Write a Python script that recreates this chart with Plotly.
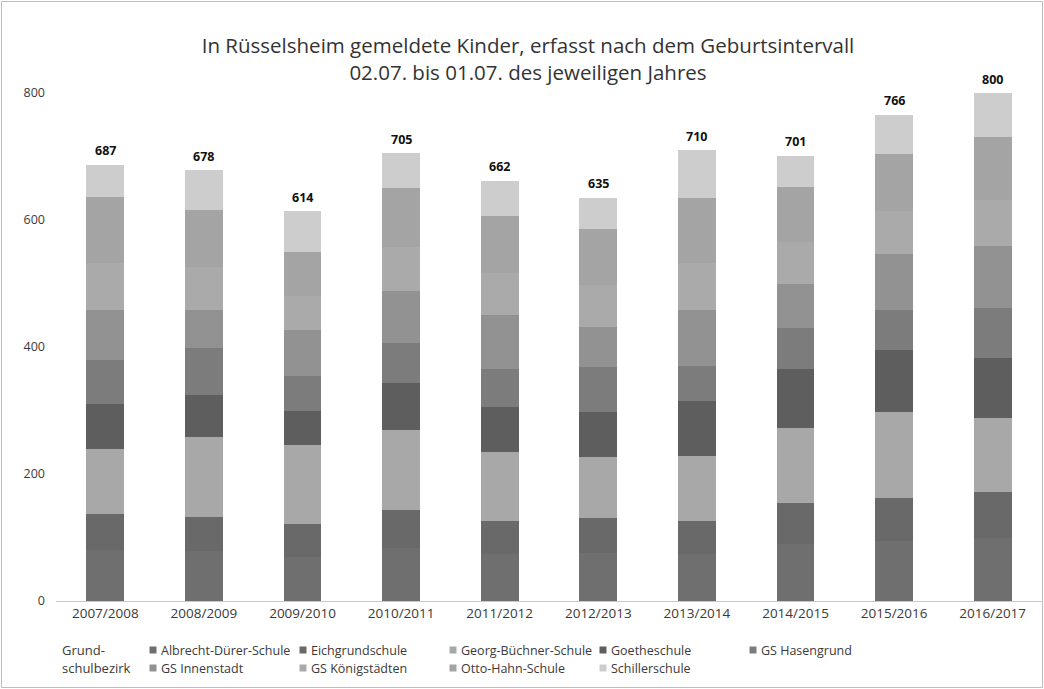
import plotly.graph_objects as go

years = ["2007/2008", "2008/2009", "2009/2010", "2010/2011", "2011/2012",
         "2012/2013", "2013/2014", "2014/2015", "2015/2016", "2016/2017"]
totals = [687, 678, 614, 705, 662, 635, 710, 701, 766, 800]

albrecht = [80, 78, 70, 84, 74, 76, 74, 90, 95, 100]
eichgrund = [57, 55, 51, 59, 52, 54, 52, 65, 68, 71]
georg = [103, 125, 125, 127, 108, 97, 102, 117, 134, 117]
goethe = [70, 66, 54, 74, 71, 70, 87, 94, 99, 94]
hasengrund = [70, 74, 54, 63, 60, 72, 55, 64, 62, 80]
innenstadt = [78, 60, 73, 81, 86, 63, 88, 70, 88, 97]
koenig = [75, 68, 53, 70, 66, 66, 75, 65, 68, 73]
otto = [103, 90, 70, 92, 89, 88, 101, 87, 90, 98]
schiller = [51, 62, 64, 55, 56, 49, 76, 49, 62, 70]

series = [
    ("Albrecht-Dürer-Schule", albrecht, "#6f6f6f"),
    ("Eichgrundschule", eichgrund, "#696969"),
    ("Georg-Büchner-Schule", georg, "#a8a8a8"),
    ("Goetheschule", goethe, "#5e5e5e"),
    ("GS Hasengrund", hasengrund, "#7c7c7c"),
    ("GS Innenstadt", innenstadt, "#929292"),
    ("GS Königstädten", koenig, "#aaaaaa"),
    ("Otto-Hahn-Schule", otto, "#a4a4a4"),
    ("Schillerschule", schiller, "#cdcdcd"),
]

FONT = "Open Sans, Roboto, Liberation Sans, Arial, sans-serif"
TXT = "#3a3a3a"

fig = go.Figure()
for name, vals, col in series:
    fig.add_trace(go.Bar(x=years, y=vals, name=name,
                         marker=dict(color=col, line=dict(width=0)), showlegend=False))

# total labels above the stacks
for yr, tot in zip(years, totals):
    fig.add_annotation(x=yr, y=tot, xref="x", yref="y", text=str(tot), showarrow=False,
                       yanchor="middle", yshift=14,
                       font=dict(family=FONT, size=12.5, color="#111111", weight="bold"))

# plot area in pixels: x 56..1042, y 93..601
L, R, T, B = 56, 2, 93, 88
W, H = 1044, 689
pw, ph = W - L - R, H - T - B


def px(x):
    return (x - L) / pw


def py(y):
    return (H - B - y) / ph


# legend (Excel-style grid: 5 equal columns, 2 rows)
col_x = [153, 303, 453, 603, 753]
row_y = [650, 668]
for i, (name, vals, col) in enumerate(series):
    sx = col_x[i % 5]
    sy = row_y[i // 5]
    fig.add_shape(type="rect", xref="paper", yref="paper",
                  x0=px(sx - 3.5), x1=px(sx + 3.5), y0=py(sy + 3.5), y1=py(sy - 3.5),
                  line=dict(width=0), fillcolor=col)
    fig.add_annotation(text=name, xref="paper", yref="paper", x=px(sx + 6), y=py(sy),
                       xanchor="left", yanchor="middle", showarrow=False,
                       font=dict(family=FONT, size=12.5, color=TXT))

fig.add_annotation(text="Grund-", xref="paper", yref="paper",
                   x=px(60), y=py(650), xanchor="left", yanchor="middle", showarrow=False,
                   font=dict(family=FONT, size=13, color=TXT))
fig.add_annotation(text="schulbezirk", xref="paper", yref="paper",
                   x=px(60), y=py(668), xanchor="left", yanchor="middle", showarrow=False,
                   font=dict(family=FONT, size=13, color=TXT))

fig.update_layout(
    width=W, height=H,
    margin=dict(l=L, r=R, t=T, b=B),
    paper_bgcolor="white", plot_bgcolor="white",
    barmode="stack", bargap=0.615,
    font=dict(family=FONT, color=TXT),
    showlegend=False,
    title=dict(text="In Rüsselsheim gemeldete Kinder, erfasst nach dem Geburtsintervall<br>02.07. bis 01.07. des jeweiligen Jahres",
               x=528 / W, xanchor="center", y=1 - 53 / H, yanchor="middle",
               font=dict(family=FONT, size=20.5, color="#333333")),
    xaxis=dict(showgrid=False, showline=True, linecolor="#c8c8c8", linewidth=1,
               ticks="", tickfont=dict(family=FONT, size=13.5, color=TXT), fixedrange=True),
    yaxis=dict(range=[0, 800], tickvals=[0, 200, 400, 600, 800], showgrid=False,
               showline=False, zeroline=False, ticks="", ticklabelstandoff=10,
               tickfont=dict(family=FONT, size=12.5, color=TXT), fixedrange=True),
)

fig.add_shape(type="rect", xref="paper", yref="paper",
              x0=px(1.5), x1=px(1042.5), y0=py(687.5), y1=py(1.5),
              line=dict(color="#bdbdbd", width=1), fillcolor="rgba(0,0,0,0)", layer="below")

fig.write_html("out.html")
